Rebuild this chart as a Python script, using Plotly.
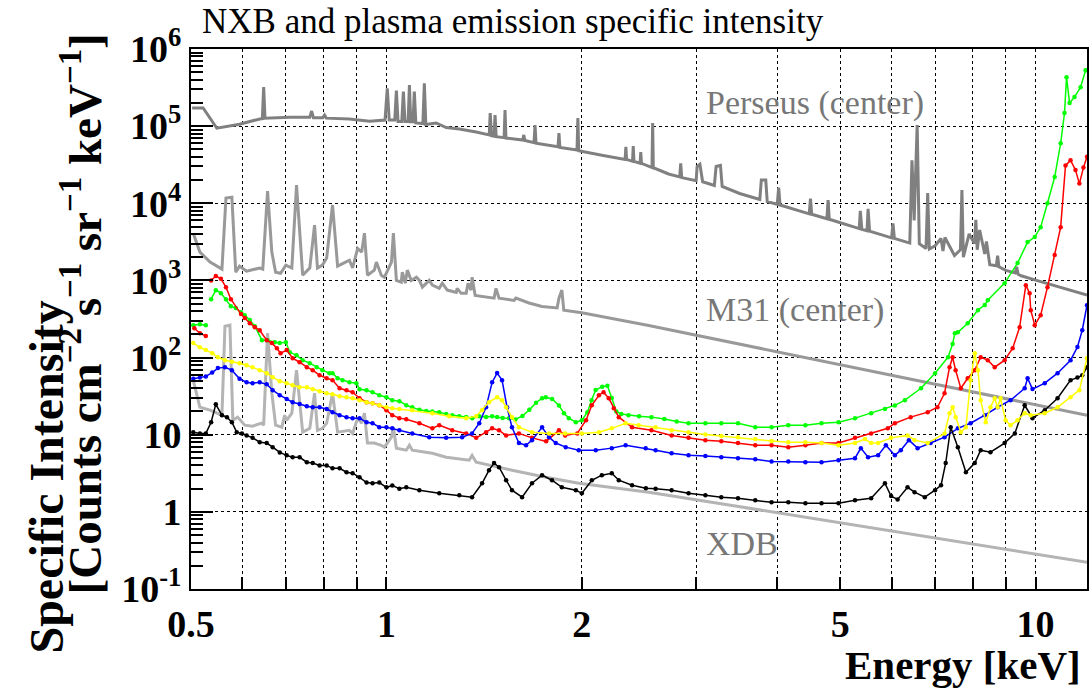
import math
import plotly.graph_objects as go

# ---------------- data (energy keV, specific intensity) ----------------
perseus_E = [0.502, 0.522, 0.548, 0.594, 0.638, 0.644, 0.647, 0.650, 0.710, 0.762, 0.767, 0.772, 0.798, 0.803,
             0.808, 0.877, 0.942, 0.995, 1.003, 1.010, 1.030, 1.036, 1.042, 1.056, 1.062, 1.068, 1.080, 1.085,
             1.090, 1.099, 1.104, 1.110, 1.138, 1.144, 1.150, 1.193, 1.236, 1.295, 1.375, 1.440, 1.445, 1.452,
             1.465, 1.470, 1.476, 1.518, 1.523, 1.528, 1.622, 1.628, 1.634, 1.688, 1.694, 1.700, 1.838, 1.844,
             1.850, 1.966, 1.972, 1.978, 2.147, 2.332, 2.338, 2.344, 2.394, 2.40, 2.406, 2.459, 2.465, 2.471,
             2.565, 2.571, 2.577, 2.72, 2.83, 2.84, 2.85, 3.0, 3.01, 3.04, 3.07, 3.20, 3.22, 3.27, 3.29, 3.5,
             3.76, 3.78, 3.84, 3.86, 4.0, 4.02, 4.04, 4.48, 4.50, 4.52, 4.77, 4.79, 4.81, 5.0, 5.35, 5.37,
             5.40, 5.50, 5.52, 5.55, 6.0, 6.03, 6.06, 6.40, 6.45, 6.50, 6.57, 6.62, 6.78, 6.82, 6.86, 7.0,
             7.15, 7.20, 7.25, 7.5, 7.66, 7.70, 7.74, 7.9, 8.05, 8.09, 8.13, 8.20, 8.35, 8.40, 8.5, 8.7, 8.74,
             8.78, 9.0, 9.3, 9.35, 9.4, 9.5, 10.0, 12.0]
perseus_V = [1.72e5, 1.72e5, 9.4e4, 1.06e5, 1.24e5, 1.25e5, 3.2e5, 1.27e5, 1.3e5, 1.3e5, 1.57e5, 1.28e5, 1.28e5, 1.39e5,
             1.27e5, 1.24e5, 1.16e5, 1.2e5, 3.1e5, 1.2e5, 1.2e5, 2.9e5, 1.15e5, 1.15e5, 2.8e5, 1.15e5, 1.15e5, 3.4e5,
             1.14e5, 1.14e5, 2.8e5, 1.1e5, 1.08e5, 3.6e5, 1.05e5, 1.1e5, 9.6e4, 9.2e4, 8.4e4, 7.7e4, 1.48e5, 7.5e4,
             7.4e4, 1.39e5, 7.3e4, 7.1e4, 1.62e5, 7.0e4, 6.6e4, 7.7e4, 6.5e4, 6.1e4, 1.03e5, 6.0e4, 5.4e4, 8.1e4,
             5.3e4, 4.9e4, 1.27e5, 4.8e4, 4.2e4, 3.7e4, 5.4e4, 3.7e4, 3.5e4, 5.5e4, 3.5e4, 3.3e4, 4.6e4, 3.3e4,
             2.9e4, 1.1e5, 2.9e4, 2.4e4, 2.2e4, 3.3e4, 2.15e4, 1.96e4, 3.0e4, 3.2e4, 1.9e4, 1.7e4, 3.0e4, 3.1e4, 1.65e4, 1.34e4,
             1.12e4, 2.0e4, 2.0e4, 1.05e4, 9.7e3, 1.6e4, 9.5e3, 7.3e3, 1.15e4, 7.2e3, 6.3e3, 1.1e4, 6.2e3, 5.6e3, 4.7e3, 8.0e3,
             4.6e3, 4.4e3, 8.5e3, 4.35e3, 3.56e3, 5.5e3, 3.5e3, 3.05e3, 3.6e4, 6.0e3, 1.03e5, 3.0e3, 2.6e3, 1.36e4, 2.55e3, 2.8e3,
             3.5e3, 2.4e3, 3.6e3, 2.1e3, 2.5e3, 1.48e4, 2.0e3, 4.0e3, 3.0e3, 6.1e3, 2.5e3, 4.5e3, 2.2e3, 3.2e3, 1.6e3, 1.55e3, 2.1e3,
             1.5e3, 1.35e3, 1.25e3, 1.5e3, 1.2e3, 1.15e3, 1.01e3, 647]

m31_E = [0.504, 0.516, 0.535, 0.558, 0.566, 0.578, 0.586, 0.594, 0.609, 0.638, 0.645, 0.656, 0.666, 0.675,
         0.687, 0.700, 0.715, 0.727, 0.743, 0.762, 0.775, 0.783, 0.797, 0.809, 0.826, 0.841, 0.859, 0.877,
         0.887, 0.903, 0.916, 0.925, 0.935, 0.958, 0.965, 0.982, 0.993, 1.018, 1.025, 1.036, 1.054, 1.058,
         1.069, 1.077, 1.092, 1.112, 1.124, 1.136, 1.164, 1.177, 1.206, 1.219, 1.241, 1.281, 1.285, 1.304,
         1.327, 1.336, 1.350, 1.355, 1.370, 1.439, 1.465, 1.475, 1.491, 1.573, 1.583, 1.658, 1.736, 1.832,
         1.844, 1.863, 1.876, 2.0, 2.535, 12.0]
m31_V = [4.1e3, 2.33e3, 1.73e3, 1.4e3, 1.17e4, 1.2e4, 1.28e3, 1.53e3, 1.32e3, 1.45e3, 1.4e3, 1.44e4, 2.33e3, 1.28e3,
         1.24e3, 1.58e3, 1.45e3, 1.72e4, 1.17e3, 1.45e3, 5.2e3, 1.45e3, 1.58e3, 1.95e3, 9.5e3, 1.53e3, 1.68e3, 1.83e3,
         1.45e3, 2.6e3, 2.33e3, 4.1e3, 1.17e3, 1.36e3, 1.73e3, 1.17e3, 1.1e3, 1.73e3, 4.1e3, 1.0e3, 950, 1.28e3,
         920, 1.36e3, 1.0e3, 1.1e3, 1.0e3, 820, 1.0e3, 870, 790, 920, 750, 700, 790, 680,
         680, 920, 750, 1.1e3, 640, 610, 590, 790, 590, 550, 590, 510, 460, 440,
         590, 750, 410, 380, 260, 17.9]

xdb_E = [0.504, 0.516, 0.535, 0.558, 0.564, 0.574, 0.580, 0.590, 0.605, 0.622, 0.642, 0.647, 0.656, 0.666,
         0.675, 0.690, 0.697, 0.702, 0.715, 0.727, 0.743, 0.762, 0.775, 0.783, 0.797, 0.809, 0.826, 0.841,
         0.877, 0.887, 0.903, 0.916, 0.925, 0.935, 0.958, 0.982, 0.993, 1.018, 1.025, 1.036, 1.073, 1.085,
         1.096, 1.177, 1.236, 1.341, 1.355, 1.375, 1.561, 1.761, 1.978, 2.535, 12.0]
xdb_V = [51, 22.7, 20.8, 17.9, 255, 263, 15.4, 16.9, 13.3, 12.9, 14.1, 13.3, 207, 34.5,
         13.3, 12.5, 17.9, 15.4, 19, 68.7, 10.8, 12.1, 34.5, 11.4, 12.1, 14.1, 34.5, 10.8,
         11.4, 10.4, 16.4, 14.1, 19, 7.8, 7.8, 7.3, 6.9, 9.3, 12.5, 6.7, 6.3, 7.3,
         6.3, 5.75, 5.1, 4.67, 5.4, 4.4, 3.47, 2.81, 2.35, 1.80, 0.222]

# None marks the gap between the first low-lying points and the rest
green_E = [0.504, 0.516, 0.527, None, 0.537, 0.546, 0.556, 0.566, 0.576, 0.586, 0.597, 0.605, 0.616, 0.627, 0.643,
           0.656, 0.673, 0.685, 0.700, 0.710, 0.727, 0.743, 0.762, 0.781, 0.797, 0.817, 0.826, 0.841, 0.856,
           0.877, 0.899, 0.909, 0.932, 0.952, 0.975, 1.0, 1.021, 1.047, 1.073, 1.096, 1.124, 1.152, 1.177,
           1.206, 1.236, 1.263, 1.295, 1.327, 1.356, 1.39, 1.424, 1.455, 1.481, 1.51, 1.545, 1.58, 1.62,
           1.66, 1.70, 1.737, 1.76, 1.80, 1.844, 1.877, 1.91, 1.958, 2.0, 2.04, 2.07, 2.10, 2.15, 2.19,
           2.224, 2.26, 2.30, 2.36, 2.45, 2.56, 2.68, 2.80, 2.92, 3.10, 3.28, 3.48, 3.70, 3.92, 4.16, 4.42,
           4.68, 4.97, 5.27, 5.58, 5.86, 6.07, 6.29, 6.66, 7.0, 7.33, 7.45, 7.51, 7.59, 7.86, 8.15, 8.35,
           8.44, 8.96, 9.38, 9.72, 9.97, 10.18, 10.43, 10.70, 10.93, 11.08, 11.16, 11.28, 11.48, 11.73, 11.94]
green_V = [263, 271, 263, None, 571, 748, 684, 571, 464, 438, 388, 355, 306, 255, 168,
           168, 158, 154, 158, 117, 107, 92.5, 84.6, 75, 68.7, 62.8, 62.8, 54.1, 51,
           48, 46.6, 38.9, 37.8, 35.6, 32.5, 30.6, 28, 27.2, 24.1, 22.7, 21, 20.3, 20,
           19.6, 18.5, 17.9, 17.4, 17.0, 16.4, 17.4, 17.0, 17.4, 17.0, 16.5, 16.4, 15.8, 17.5,
           21, 26, 29.7, 30.5, 29, 24, 19, 16.4, 14.5, 15.4, 19.6, 28, 38, 42, 43,
           30, 20, 18.5, 17.9, 17.4, 16.9, 16, 14.8, 14.1, 14.1, 14.1, 14.1, 12.5, 12.5, 13.3, 13.3,
           14.1, 14.5, 16.4, 19, 21.5, 24, 28, 40, 62.8, 101, 150, 207, 213, 279, 412, 480,
           555, 922, 1680, 3140, 3650, 4900, 1.0e4, 2.19e4, 6.0e4, 1.48e5, 4.3e5, 2.0e5, 2.38e5, 3.2e5, 5.3e5]

red_E = [0.506, 0.516, 0.527, None, 0.537, 0.546, 0.556, 0.566, 0.576, 0.597, 0.605, 0.616, 0.627, 0.638, 0.654,
         0.666, 0.678, 0.687, 0.702, 0.717, 0.735, 0.754, 0.770, 0.789, 0.809, 0.826, 0.847, 0.868, 0.887,
         0.909, 0.932, 0.952, 0.975, 1.0, 1.021, 1.047, 1.073, 1.124, 1.177, 1.206, 1.263, 1.327, 1.375,
         1.424, 1.455, 1.491, 1.529, 1.600, 1.676, 1.762, 1.844, 1.885, 1.968, 2.03, 2.072, 2.125, 2.16,
         2.2, 2.24, 2.28, 2.39, 2.56, 2.75, 2.92, 3.10, 3.28, 3.48, 3.70, 3.92, 4.16, 4.42, 4.68, 4.97,
         5.27, 5.58, 5.92, 6.07, 6.42, 6.82, 7.06, 7.24, 7.37, 7.45, 7.53, 7.67, 7.86, 8.06, 8.23, 8.44,
         8.65, 8.96, 9.22, 9.45, 9.66, 9.79, 9.83, 9.97, 10.18, 10.43, 10.70, 10.93, 11.12, 11.32, 11.52,
         11.68, 11.85, 12.0]
red_V = [240, 207, 190, None, 1000, 1140, 1050, 818, 571, 366, 325, 279, 248, 226, 168,
         154, 132, 114, 125, 98, 87, 75, 68.7, 59, 54, 51, 40, 37.8, 35.6,
         29.7, 26.4, 25.6, 24.1, 20.8, 17.9, 16.4, 15.9, 14.1, 12.1, 13.3, 11.4, 10.4, 9.1,
         10.8, 12.1, 11.4, 9.8, 10.4, 9.1, 8.2, 11.4, 9.8, 10.4, 15.4, 24.1, 32.5, 35.6,
         29.7, 22.1, 16.9, 12.5, 11.4, 9.8, 9.1, 8.5, 8.2, 7.8, 7.3, 7.3, 6.9, 7.3, 7.8, 7.8,
         9.1, 10.4, 12.1, 14.1, 16.9, 19.6, 22.7, 34.5, 75, 101, 68.7, 40, 54, 68.7, 101, 92.5,
         75, 92.5, 132, 248, 869, 684, 412, 263, 355, 818, 2130, 4900, 3.1e4, 3.6e4, 2.7e4,
         1.8e4, 2.9e4, 4.0e4]

blue_E = [0.504, 0.516, 0.527, 0.539, 0.550, 0.564, 0.578, 0.594, 0.609, 0.622, 0.638, 0.654, 0.668, 0.685,
          0.702, 0.717, 0.735, 0.754, 0.770, 0.789, 0.809, 0.826, 0.847, 0.868, 0.887, 0.909, 0.932, 0.952,
          0.975, 1.0, 1.021, 1.047, 1.096, 1.164, 1.236, 1.308, 1.355, 1.390, 1.424, 1.455, 1.481, 1.507,
          1.534, 1.561, 1.600, 1.641, 1.676, 1.737, 1.780, 1.823, 1.889, 1.978, 2.101, 2.224, 2.336, 2.508,
          2.598, 2.750, 2.920, 3.10, 3.28, 3.48, 3.70, 3.92, 4.16, 4.42, 4.68, 4.97, 5.27, 5.38, 5.52, 5.72,
          5.88, 6.07, 6.20, 6.38, 6.58, 6.89, 7.24, 7.59, 7.94, 8.35, 8.74, 9.15, 9.62, 9.72, 9.89, 10.33,
          10.81, 11.32, 11.6, 11.8, 12.0]
blue_V = [53, 55, 57, 64, 73, 75, 68.7, 53, 48, 46.6, 48, 45, 37.8, 32.5,
          29, 26.4, 25, 23.4, 22.7, 22.7, 21.5, 19.6, 17.9, 16.9, 16.4, 16.4, 14.5, 14.1,
          12.5, 12.5, 12.1, 11.4, 10.4, 9.3, 9.1, 9.3, 10.4, 14.1, 22.7, 48, 63, 51,
          22.7, 12.5, 7.8, 7.3, 8.5, 12.5, 9.3, 7.8, 6.9, 6.3, 6.3, 6.7, 7.3, 6.7,
          6.3, 5.75, 5.4, 5.3, 5.1, 4.96, 4.8, 4.5, 4.5, 4.4, 4.4, 4.67, 4.96, 6.7, 5.1, 5.4,
          7.3, 5.4, 6.3, 8.5, 6.7, 7.8, 9.3, 12.1, 14.1, 17.9, 22.7, 28, 40, 54, 39, 46.6,
          62.8, 92.5, 137, 226, 478]

yellow_E = [0.504, 0.516, 0.527, 0.539, 0.550, 0.564, 0.578, 0.594, 0.609, 0.622, 0.638, 0.654, 0.668, 0.685,
            0.702, 0.717, 0.735, 0.754, 0.770, 0.789, 0.809, 0.826, 0.847, 0.868, 0.887, 0.909, 0.932, 0.952,
            0.975, 1.0, 1.021, 1.047, 1.096, 1.177, 1.249, 1.327, 1.375, 1.404, 1.439, 1.481, 1.507, 1.529,
            1.561, 1.600, 1.676, 1.780, 1.885, 2.0, 2.125, 2.224, 2.336, 2.447, 2.598, 2.750, 2.920, 3.10,
            3.28, 3.48, 3.70, 3.92, 4.16, 4.42, 4.68, 4.97, 5.27, 5.46, 5.58, 5.72, 5.99, 6.35, 6.51, 6.82,
            7.24, 7.37, 7.45, 7.53, 7.67, 7.81, 7.94, 8.06, 8.15, 8.23, 8.38, 8.52, 8.65, 8.74, 8.83, 8.99,
            9.15, 9.38, 9.62, 9.83, 10.33, 10.81, 11.32, 11.68, 12.0]
yellow_V = [154, 136, 125, 114, 101, 92.5, 88, 84.6, 79.7, 75, 68.7, 62.8, 55.5, 49.5,
            46.6, 43.9, 41.3, 41.3, 38.9, 36.7, 34.5, 33.5, 31.6, 30.6, 29.7, 28, 26.4, 25.6,
            24.1, 22.7, 22.1, 21.5, 20.8, 19, 17.4, 16.4, 17.4, 20.8, 26.4, 30.6, 28, 22.7,
            16.9, 12.5, 10.8, 10.4, 10.4, 10.4, 10.8, 12.1, 14.1, 13.3, 12.5, 11.4, 10.8, 10.1,
            9.6, 9.3, 8.8, 8.3, 8.0, 8.0, 7.8, 7.3, 7.8, 8.8, 7.8, 7.8, 9.1, 9.8, 8.5, 7.8,
            10.4, 19, 22.7, 16.9, 10.8, 12.5, 51, 114, 68.7, 28, 14.5, 22.7, 29.7, 22.7, 29.7, 15.4,
            13.3, 15.4, 19, 17.9, 19, 22.7, 30.6, 37.8, 98]

black_E = [0.504, 0.516, 0.527, 0.537, 0.546, 0.558, 0.568, 0.578, 0.588, 0.599, 0.609, 0.622, 0.638, 0.654,
           0.668, 0.685, 0.702, 0.717, 0.735, 0.754, 0.770, 0.789, 0.809, 0.826, 0.847, 0.868, 0.887, 0.909,
           0.932, 0.952, 0.975, 1.0, 1.021, 1.047, 1.073, 1.124, 1.206, 1.295, 1.355, 1.404, 1.439, 1.465,
           1.491, 1.529, 1.561, 1.618, 1.676, 1.737, 1.799, 1.863, 1.958, 2.0, 2.072, 2.147, 2.224, 2.28,
           2.39, 2.51, 2.598, 2.750, 2.920, 3.10, 3.28, 3.48, 3.70, 3.92, 4.16, 4.42, 4.68, 4.97, 5.27, 5.58,
           5.86, 5.99, 6.13, 6.35, 6.51, 6.75, 7.0, 7.15, 7.27, 7.40, 7.59, 7.81, 8.06, 8.23, 8.52, 8.96,
           9.29, 9.62, 9.89, 10.33, 10.81, 11.32, 11.6, 11.8, 12.0]
black_V = [10.8, 10.4, 10.4, 14.5, 24.8, 17.9, 16.9, 14.5, 10.8, 10.4, 9.8, 9.1, 8.0, 7.8,
           6.9, 5.9, 5.4, 5.1, 5.1, 4.4, 4.3, 4.0, 4.0, 3.67, 3.67, 3.26, 3.17, 2.8,
           2.4, 2.35, 2.4, 2.08, 2.2, 2.0, 2.08, 1.91, 1.74, 1.64, 1.55, 2.35, 3.47, 4.3,
           3.8, 2.57, 1.91, 1.55, 2.35, 2.99, 2.57, 2.08, 1.91, 1.74, 2.57, 2.99, 3.17, 2.57,
           2.21, 2.02, 2.0, 1.91, 1.74, 1.64, 1.55, 1.5, 1.41, 1.33, 1.33, 1.29, 1.29, 1.29, 1.41, 1.5,
           2.35, 1.6, 1.45, 2.08, 1.8, 1.55, 1.91, 2.21, 4.3, 12.5, 6.9, 3.26, 4.3, 6.3, 5.93, 7.8,
           10.4, 24.1, 16.4, 20.8, 29.7, 51, 55, 59, 75]

x_tickvals = [0.5, 1, 2, 5, 10]
x_ticktext = ["0.5", "1", "2", "5", "10"]
x_minor = [0.6, 0.7, 0.8, 0.9, 3, 4, 6, 7, 8, 9]
y_tickvals = [0.1, 1, 10, 100, 1e3, 1e4, 1e5, 1e6]
y_ticktext = ["10<sup>-1</sup>", "1", "10", "10<sup>2</sup>", "10<sup>3</sup>",
              "10<sup>4</sup>", "10<sup>5</sup>", "10<sup>6</sup>"]
y_minor = [m * 10 ** d for d in range(-1, 6) for m in range(2, 10)]

SERIF = "Liberation Serif"

fig = go.Figure()
for E, V, col in [(perseus_E, perseus_V, "#808080"), (m31_E, m31_V, "#999999"), (xdb_E, xdb_V, "#b4b4b4")]:
    fig.add_trace(go.Scatter(x=E, y=V, mode="lines", line=dict(color=col, width=3), showlegend=False,
                             hoverinfo="skip"))

for E, V, col in [(green_E, green_V, "#00ff00"), (red_E, red_V, "#ff0000"), (blue_E, blue_V, "#0000ff"),
                  (black_E, black_V, "#000000"), (yellow_E, yellow_V, "#ffff00")]:
    fig.add_trace(go.Scatter(x=E, y=V, mode="lines+markers", connectgaps=False,
                             line=dict(color=col, width=1.5),
                             marker=dict(color=col, size=4.5), showlegend=False, hoverinfo="skip"))

axis_common = dict(type="log", showline=True, linecolor="black", linewidth=2, mirror=True,
                   showgrid=True, gridcolor="black", griddash="dot", gridwidth=1,
                   ticks="inside", tickcolor="black", zeroline=False,
                   tickfont=dict(family=SERIF, size=38, color="black", weight="bold"))

fig.update_layout(
    width=1091, height=688, autosize=False,
    margin=dict(l=191, r=2, t=49, b=99),
    paper_bgcolor="white", plot_bgcolor="white",
    xaxis=dict(axis_common, range=[math.log10(0.5), math.log10(12)], tickmode="array",
               tickvals=x_tickvals, ticktext=x_ticktext, ticklen=12, tickwidth=1.5,
               minor=dict(tickmode="array", tickvals=x_minor, ticks="inside", ticklen=12,
                          tickcolor="black", tickwidth=1.5, showgrid=True, gridcolor="black",
                          griddash="dot", gridwidth=1)),
    yaxis=dict(axis_common, range=[-1, 6], tickmode="array", tickvals=y_tickvals, ticktext=y_ticktext,
               ticklen=22, tickwidth=1.5,
               minor=dict(tickmode="array", tickvals=y_minor, ticks="inside", ticklen=12,
                          tickcolor="black", tickwidth=1.5, showgrid=False)),
    annotations=[
        dict(text="NXB and plasma emission specific intensity", xref="paper", yref="paper",
             x=0.01, y=1.05, xanchor="left", yanchor="middle", showarrow=False,
             font=dict(family=SERIF, size=35, color="black")),
        dict(text="Perseus (center)", xref="paper", yref="paper", x=0.5724, y=0.90,
             xanchor="left", yanchor="middle", showarrow=False,
             font=dict(family=SERIF, size=34, color="#777777")),
        dict(text="M31 (center)", xref="paper", yref="paper", x=0.5724, y=0.517,
             xanchor="left", yanchor="middle", showarrow=False,
             font=dict(family=SERIF, size=34, color="#777777")),
        dict(text="XDB", xref="paper", yref="paper", x=0.5724, y=0.085,
             xanchor="left", yanchor="middle", showarrow=False,
             font=dict(family=SERIF, size=34, color="#777777")),
        dict(text="<b>Specific Intensity</b>", xref="paper", yref="paper", x=-0.1615, y=0.207,
             xanchor="center", yanchor="middle", textangle=-90, showarrow=False,
             font=dict(family=SERIF, size=48, color="black")),
        dict(text="<b>[Counts cm<sup>\u22122</sup> s<sup>\u22121</sup> sr<sup>\u22121</sup> keV<sup>\u22121</sup>]</b>",
             xref="paper", yref="paper", x=-0.1225, y=0.509,
             xanchor="center", yanchor="middle", textangle=-90, showarrow=False,
             font=dict(family=SERIF, size=47, color="black")),
        dict(text="<b>Energy [keV]</b>", xref="paper", yref="paper", x=0.9955, y=-0.1407,
             xanchor="right", yanchor="middle", showarrow=False,
             font=dict(family=SERIF, size=41, color="black")),
    ],
)

fig.write_html("out.html")
